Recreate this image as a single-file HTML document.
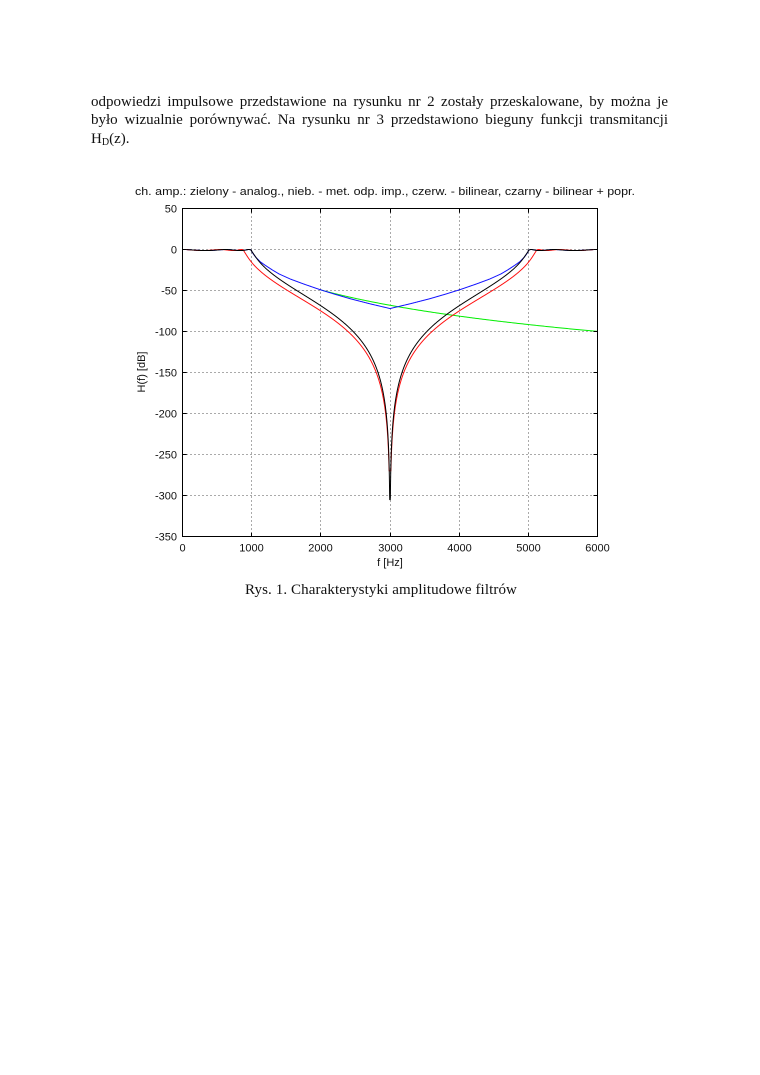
<!DOCTYPE html>
<html>
<head>
<meta charset="utf-8">
<style>
  html,body{margin:0;padding:0;background:#fff;}
  body{position:relative;width:760px;height:1075px;overflow:hidden;}
  svg{display:block;position:absolute;left:0;top:0;}
  .ln{position:absolute;left:91px;width:577px;font-family:"Liberation Serif","DejaVu Serif",serif;font-size:15px;line-height:17.5px;color:#111;text-align:justify;text-align-last:justify;white-space:normal;}
  .ln.last{text-align:left;text-align-last:left;}
  .cap{position:absolute;left:181px;width:400px;text-align:center;font-family:"Liberation Serif","DejaVu Serif",serif;font-size:15px;line-height:17.5px;color:#111;letter-spacing:0.1px;}
  .sans{font-family:"Liberation Sans","DejaVu Sans",sans-serif;font-size:11px;fill:#111;}
  sub{font-size:10px;vertical-align:-2px;line-height:0;}
</style>
</head>
<body>
<svg width="760" height="1075" viewBox="0 0 760 1075" xmlns="http://www.w3.org/2000/svg">
  <rect x="0" y="0" width="760" height="1075" fill="#fff"/>

  <!-- chart title -->
  <text class="sans" x="135" y="195" textLength="500" lengthAdjust="spacingAndGlyphs">ch. amp.: zielony - analog., nieb. - met. odp. imp., czerw. - bilinear, czarny - bilinear + popr.</text>

  <!-- grid -->
  <g stroke="#555" stroke-width="1" stroke-dasharray="1 3" fill="none">
    <line x1="251.5" y1="208.5" x2="251.5" y2="536.5"/>
    <line x1="320.5" y1="208.5" x2="320.5" y2="536.5"/>
    <line x1="390.5" y1="208.5" x2="390.5" y2="536.5"/>
    <line x1="459.5" y1="208.5" x2="459.5" y2="536.5"/>
    <line x1="528.5" y1="208.5" x2="528.5" y2="536.5"/>
    <line x1="182.5" y1="249.5" x2="597.5" y2="249.5"/>
    <line x1="182.5" y1="290.5" x2="597.5" y2="290.5"/>
    <line x1="182.5" y1="331.5" x2="597.5" y2="331.5"/>
    <line x1="182.5" y1="372.5" x2="597.5" y2="372.5"/>
    <line x1="182.5" y1="413.5" x2="597.5" y2="413.5"/>
    <line x1="182.5" y1="454.5" x2="597.5" y2="454.5"/>
    <line x1="182.5" y1="495.5" x2="597.5" y2="495.5"/>
  </g>

  <!-- curves (filled by script) -->
  <g fill="none" stroke-width="1" stroke-linejoin="round">
    <path id="green" stroke="#00ee00" d=""/>
    <path id="blue" stroke="#1010ff" d=""/>
    <path id="red" stroke="#ff1010" d=""/>
    <path id="black" stroke="#000" d=""/>
  </g>

  <!-- axes box -->
  <rect x="182.5" y="208.5" width="415" height="328" fill="none" stroke="#000" stroke-width="1"/>
  <!-- ticks -->
  <g stroke="#000" stroke-width="1">
    <line x1="251.5" y1="536.5" x2="251.5" y2="532.5"/><line x1="251.5" y1="208.5" x2="251.5" y2="212.5"/>
    <line x1="320.5" y1="536.5" x2="320.5" y2="532.5"/><line x1="320.5" y1="208.5" x2="320.5" y2="212.5"/>
    <line x1="390.5" y1="536.5" x2="390.5" y2="532.5"/><line x1="390.5" y1="208.5" x2="390.5" y2="212.5"/>
    <line x1="459.5" y1="536.5" x2="459.5" y2="532.5"/><line x1="459.5" y1="208.5" x2="459.5" y2="212.5"/>
    <line x1="528.5" y1="536.5" x2="528.5" y2="532.5"/><line x1="528.5" y1="208.5" x2="528.5" y2="212.5"/>
    <line x1="182.5" y1="249.5" x2="186.5" y2="249.5"/><line x1="597.5" y1="249.5" x2="593.5" y2="249.5"/>
    <line x1="182.5" y1="290.5" x2="186.5" y2="290.5"/><line x1="597.5" y1="290.5" x2="593.5" y2="290.5"/>
    <line x1="182.5" y1="331.5" x2="186.5" y2="331.5"/><line x1="597.5" y1="331.5" x2="593.5" y2="331.5"/>
    <line x1="182.5" y1="372.5" x2="186.5" y2="372.5"/><line x1="597.5" y1="372.5" x2="593.5" y2="372.5"/>
    <line x1="182.5" y1="413.5" x2="186.5" y2="413.5"/><line x1="597.5" y1="413.5" x2="593.5" y2="413.5"/>
    <line x1="182.5" y1="454.5" x2="186.5" y2="454.5"/><line x1="597.5" y1="454.5" x2="593.5" y2="454.5"/>
    <line x1="182.5" y1="495.5" x2="186.5" y2="495.5"/><line x1="597.5" y1="495.5" x2="593.5" y2="495.5"/>
  </g>

  <!-- y tick labels -->
  <g text-anchor="end">
    <text class="sans" x="177" y="212.5">50</text>
    <text class="sans" x="177" y="253.5">0</text>
    <text class="sans" x="177" y="294.5">-50</text>
    <text class="sans" x="177" y="335.5">-100</text>
    <text class="sans" x="177" y="376.5">-150</text>
    <text class="sans" x="177" y="417.5">-200</text>
    <text class="sans" x="177" y="458.5">-250</text>
    <text class="sans" x="177" y="499.5">-300</text>
    <text class="sans" x="177" y="540.5">-350</text>
  </g>
  <!-- x tick labels -->
  <g text-anchor="middle">
    <text class="sans" x="182.5" y="551.5">0</text>
    <text class="sans" x="251.5" y="551.5">1000</text>
    <text class="sans" x="320.5" y="551.5">2000</text>
    <text class="sans" x="390.5" y="551.5">3000</text>
    <text class="sans" x="459.5" y="551.5">4000</text>
    <text class="sans" x="528.5" y="551.5">5000</text>
    <text class="sans" x="597.5" y="551.5">6000</text>
  </g>
  <text class="sans" x="390" y="566" text-anchor="middle">f [Hz]</text>
  <text class="sans" transform="translate(145,372) rotate(-90)" text-anchor="middle">H(f) [dB]</text>
</svg>

<div class="ln" style="top:93.5px;">odpowiedzi impulsowe przedstawione na rysunku nr 2 zostały przeskalowane, by można je</div>
<div class="ln" style="top:112px;">było wizualnie porównywać. Na rysunku nr 3 przedstawiono bieguny funkcji transmitancji</div>
<div class="ln last" style="top:130.5px;">H<sub>D</sub>(z).</div>

<div class="cap" style="top:582px;">Rys. 1. Charakterystyki amplitudowe filtrów</div>

<script>
(function(){
  var X = function(f){ return 182.5 + f*415/6000; };
  var Y = function(db){ return 249.5 - db*0.82; };
  var B = Math.tan(Math.PI*5000/12000) - Math.tan(Math.PI*1000/12000);
  var EPS = 0.8;
  function cheb(f, k, clampMin){
    var W = Math.tan(Math.PI*f/12000);
    var lam = k*B*W/(1-W*W);
    var t = 16*Math.pow(lam,5) - 20*Math.pow(lam,3) + 5*lam;
    var db = -10*Math.log10(1+EPS*EPS*t*t);
    if(Math.abs(lam) < 1){ db = db*0.6; }
    if(!isFinite(db) || db < clampMin) db = clampMin;
    return db;
  }
  var bpts = [[0,-72],[150,-69],[300,-66],[577,-60],[800,-54.5],[1010,-49],[1250,-42],[1442,-36],
              [1600,-30],[1700,-25],[1800,-19.5],[1875,-15],[1940,-9.5],[1980,-5],[2000,-2.15]];
  function blue(f){
    var d = Math.abs(f-3000);
    if(d >= 2000) return cheb(f,1,-400);
    for(var i=0;i<bpts.length-1;i++){
      var a=bpts[i], b=bpts[i+1];
      if(d>=a[0] && d<=b[0]){
        var t=(d-a[0])/(b[0]-a[0]);
        return a[1]+t*(b[1]-a[1]);
      }
    }
    return 0;
  }
  function build(fn, f0, f1, step){
    var s = '';
    for(var f=f0; f<=f1+1e-9; f+=step){
      var db = fn(f);
      s += (s?'L':'M') + X(f).toFixed(2) + ' ' + Y(db).toFixed(2);
    }
    return s;
  }
  document.getElementById('black').setAttribute('d', build(function(f){return cheb(f,1,-305);}, 60, 5940, 2));
  document.getElementById('red').setAttribute('d', build(function(f){return cheb(f,1.15,-270);}, 60, 5940, 2));
  document.getElementById('blue').setAttribute('d', build(blue, 60, 5940, 4));
  document.getElementById('green').setAttribute('d', build(function(f){return -68 - 106*Math.log10(f/3000);}, 2000, 6000, 20));
})();
</script>
</body>
</html>
